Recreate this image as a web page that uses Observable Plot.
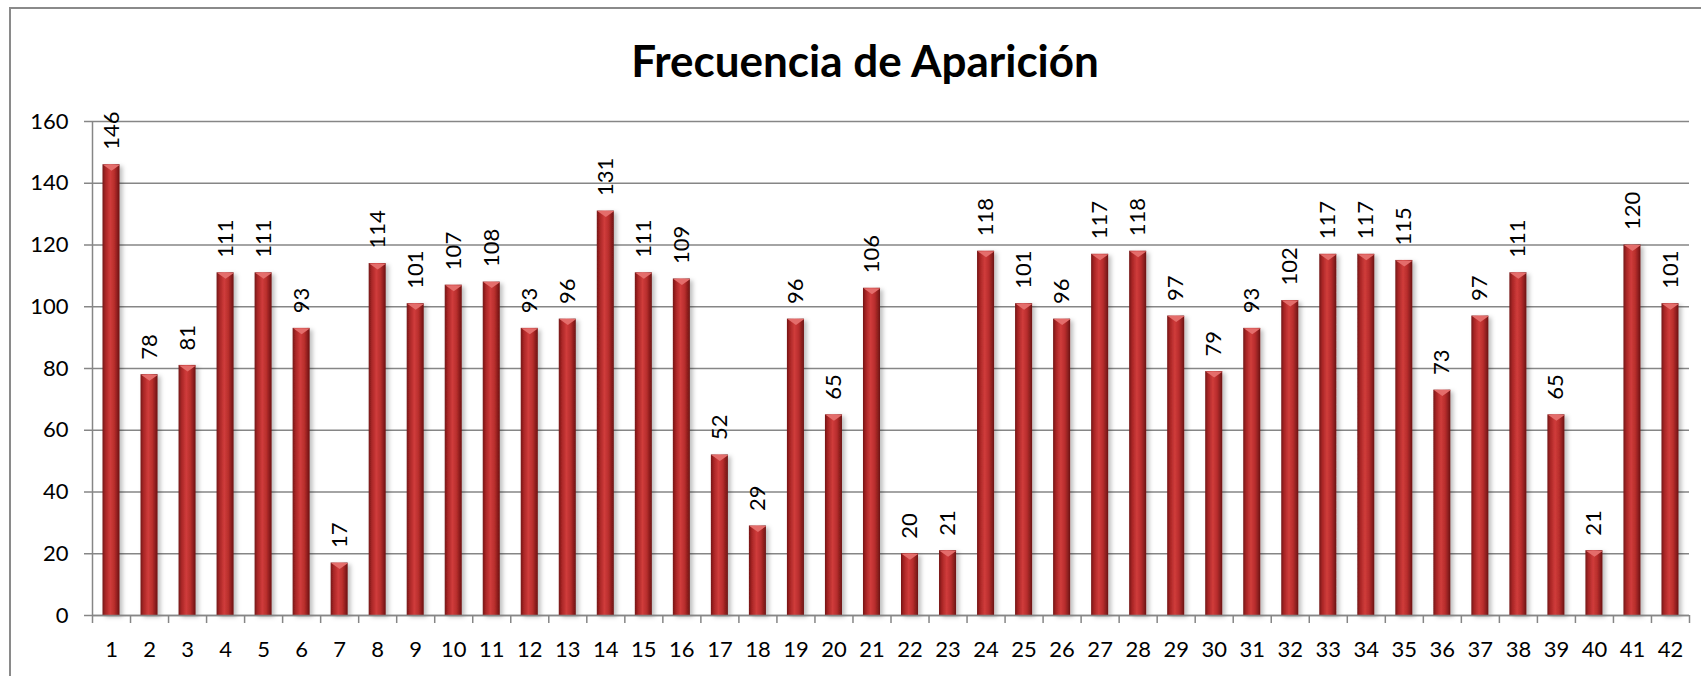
<!DOCTYPE html>
<html>
<head>
<meta charset="utf-8">
<script src="https://cdn.jsdelivr.net/npm/d3@7"></script>
<script src="https://cdn.jsdelivr.net/npm/@observablehq/plot@0.6"></script>
<style>
  html, body { margin: 0; padding: 0; background: #fff; overflow: hidden; }
  #wrap { position: relative; width: 1701px; height: 676px; overflow: hidden; }
  #frame { position: absolute; left: 9px; top: 7px; width: 1800px; height: 800px;
           border: 2px solid #8a8a8a; box-sizing: border-box; pointer-events: none; }
  #chart { position: absolute; left: 0; top: 0; }
</style>
</head>
<body>
<div id="wrap"><div id="chart"></div><div id="frame"></div></div>
<script>
const title = "Frecuencia de Aparición";
const categories = [1,2,3,4,5,6,7,8,9,10,11,12,13,14,15,16,17,18,19,20,21,22,23,24,25,26,27,28,29,30,31,32,33,34,35,36,37,38,39,40,41,42];
const values = [146,78,81,111,111,93,17,114,101,107,108,93,96,131,111,109,52,29,96,65,106,20,21,118,101,96,117,118,97,79,93,102,117,117,115,73,97,111,65,21,120,101];
const yTicks = [0,20,40,60,80,100,120,140,160];

const data = categories.map((c, i) => ({n: c, v: values[i]}));
const edges = [0.5, ...categories.map(c => c + 0.5)];

const bevel = {draw(ctx) { ctx.moveTo(-8.5, 0); ctx.lineTo(8.5, 0); ctx.lineTo(0, 6); ctx.closePath(); }};

const chart = Plot.plot({
  width: 1701,
  height: 676,
  marginLeft: 92,
  marginRight: 12,
  marginTop: 121,
  marginBottom: 61,
  style: {fontFamily: "Lato, 'Open Sans', sans-serif", fontSize: "22px", color: "black", background: "transparent"},
  x: {domain: [0.5, 42.5], axis: null},
  y: {domain: [0, 160], axis: null},
  marks: [
    Plot.gridY(yTicks, {stroke: "#868686", strokeOpacity: 1, strokeWidth: 1.5}),
    Plot.axisY({ticks: yTicks, label: null, tickSize: 8, tickPadding: 16, stroke: "#868686", strokeWidth: 1.5, fontSize: 22}),
    Plot.ruleX([0.5], {stroke: "#868686", strokeWidth: 1.5}),
    Plot.rectY(data, {x1: d => d.n - 0.5, x2: d => d.n + 0.5, y: "v", insetLeft: 10.5, insetRight: 10.5,
      fill: "url(#barGrad)"}),
    Plot.dot(data, {x: "n", y: "v", symbol: bevel, r: 1, fill: "#e46d6b", stroke: "none"}),
    Plot.ruleY([0], {stroke: "#868686", strokeWidth: 1.5}),
    Plot.axisX({ticks: edges, label: null, tickSize: 8, tickFormat: () => "", stroke: "#868686", strokeWidth: 1.5}),
    Plot.axisX({ticks: categories, label: null, tickSize: 0, tickPadding: 26, tickFormat: d => String(d), fontSize: 22}),
    Plot.text(data, {x: "n", y: "v", text: d => String(d.v), rotate: -90, textAnchor: "start",
      lineAnchor: "middle", dy: -15, fontSize: 22, fill: "black"}),
    Plot.text([title], {frameAnchor: "top", text: d => d, dx: -26, dy: -59, lineAnchor: "middle",
      fontSize: 44, fontWeight: "bold", fill: "black"})
  ]
});

chart.insertAdjacentHTML("afterbegin", `
<defs>
  <linearGradient id="barGrad" x1="0" x2="1" y1="0" y2="0">
    <stop offset="0%" stop-color="#741616"/>
    <stop offset="18%" stop-color="#a92626"/>
    <stop offset="45%" stop-color="#d03c3b"/>
    <stop offset="70%" stop-color="#b72d2c"/>
    <stop offset="100%" stop-color="#6c1313"/>
  </linearGradient>
  <filter id="barShadow" x="-50%" y="-5%" width="200%" height="110%">
    <feDropShadow dx="3" dy="2" stdDeviation="2.2" flood-color="#000" flood-opacity="0.25"/>
  </filter>
</defs>`);
const rectGroup = [...chart.querySelectorAll("g")].find(g => g.getAttribute("fill") === "url(#barGrad)");
if (rectGroup) rectGroup.setAttribute("filter", "url(#barShadow)");

document.getElementById("chart").appendChild(chart);
</script>
</body>
</html>
